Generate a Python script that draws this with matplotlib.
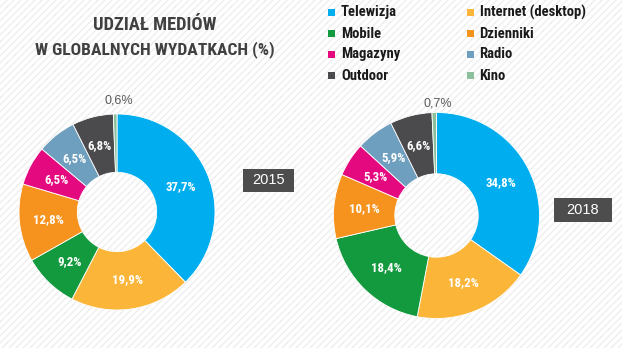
import matplotlib
matplotlib.use("Agg")
import matplotlib.pyplot as plt
from matplotlib import font_manager
from matplotlib.patches import Rectangle
import numpy as np

categories = ["Telewizja", "Internet (desktop)", "Mobile", "Dzienniki",
              "Magazyny", "Radio", "Outdoor", "Kino"]
values_2015 = [37.7, 19.9, 9.2, 12.8, 6.5, 6.5, 6.8, 0.6]
values_2018 = [34.8, 18.2, 18.4, 10.1, 5.3, 5.9, 6.6, 0.7]
years = ["2015", "2018"]
colors = ["#00AEEF", "#FBB639", "#149A3E", "#F6921E", "#E5097F",
          "#6F9FBE", "#4B4B4D", "#8CC09C"]

fl = font_manager.fontManager.ttflist
def has_bold(name):
    for f in fl:
        if f.name == name:
            w = f.weight
            if isinstance(w, str):
                if "bold" in w.lower():
                    return True
            elif w >= 600:
                return True
    return False

NARROW = "Liberation Sans"
for cand in ["Roboto Condensed", "PT Sans Narrow", "Archivo Narrow", "Fira Sans Condensed",
             "IBM Plex Sans Condensed", "Asap Condensed", "Encode Sans Condensed",
             "Liberation Sans Narrow", "Barlow Semi Condensed"]:
    if has_bold(cand):
        NARROW = cand
        break
REG = "Liberation Sans"

W, H = 622, 348
fig = plt.figure(figsize=(W / 100, H / 100), dpi=100)
fig.patch.set_facecolor("white")

# background diagonal stripes
bg = fig.add_axes([0, 0, 1, 1], zorder=-5)
bg.set_xlim(0, W)
bg.set_ylim(0, H)
bg.axis("off")
for x0 in np.arange(-H, W, 7):
    bg.plot([x0, x0 + H], [0, H], color="#ececec", lw=0.9)

def fx(px):
    return px / W

def fy(py):
    return 1 - py / H

def donut(values, cx, cy, r, year, box, out_r):
    ax = fig.add_axes([fx(cx - r), fy(cy + r), 2 * r / W, 2 * r / H])
    ax.set_aspect("equal")
    wedges, _ = ax.pie(values, colors=colors, startangle=90, counterclock=False,
                       radius=1.0, wedgeprops=dict(width=0.595, edgecolor="white", linewidth=0.6))
    ax.set_xlim(-1, 1)
    ax.set_ylim(-1, 1)
    for w, v in zip(wedges, values):
        ang = np.deg2rad((w.theta1 + w.theta2) / 2)
        txt = f"{v:.1f}%".replace(".", ",")
        if v < 2:
            ax.text(out_r * np.cos(ang) + 0.04, out_r * np.sin(ang), txt, ha="center", va="center",
                    fontsize=9, color="#595959", family=REG, clip_on=False)
        else:
            rr = 0.70
            ax.text(rr * np.cos(ang), rr * np.sin(ang), txt, ha="center", va="center",
                    fontsize=9.3, color="white", fontweight="bold", family=NARROW)
    bx0, by0, bx1, by1 = box
    fig.patches.append(Rectangle((fx(bx0), fy(by1)), (bx1 - bx0) / W, (by1 - by0) / H,
                                 transform=fig.transFigure, facecolor="#4d4d4d",
                                 edgecolor="none", zorder=3))
    fig.text(fx((bx0 + bx1) / 2), fy((by0 + by1) / 2), year, ha="center", va="center",
             color="white", fontsize=10.5, family=REG, zorder=4)
    return wedges

donut(values_2015, 117, 212, 98, years[0], (243, 169, 294, 192), 1.14)
donut(values_2018, 436.5, 215.5, 103, years[1], (554, 198, 612, 222), 1.09)

# title
fig.text(fx(155), fy(25), "UDZIAŁ MEDIÓW", ha="center", va="center",
         fontsize=13.3, fontweight="bold", color="#404040", family=NARROW)
fig.text(fx(155), fy(50), "W GLOBALNYCH WYDATKACH (%)", ha="center", va="center",
         fontsize=12.6, fontweight="bold", color="#404040", family=NARROW)

# legend (two columns, row-major as in reference)
col_x = [331.5, 470]
row_y = [12, 33.5, 54, 75.5]
for i, (cat, col) in enumerate(zip(categories, colors)):
    r, c = divmod(i, 2)
    x, y = col_x[c], row_y[r]
    s = 7
    fig.patches.append(Rectangle((fx(x - s / 2), fy(y + s / 2)), s / W, s / H,
                                 transform=fig.transFigure, facecolor=col, edgecolor="none"))
    fig.text(fx(x + 9.5), fy(y), cat, ha="left", va="center", fontsize=10.5,
             fontweight="bold", color="#1a1a1a", family=NARROW)

fig.savefig("out.png", dpi=100, facecolor="white")
